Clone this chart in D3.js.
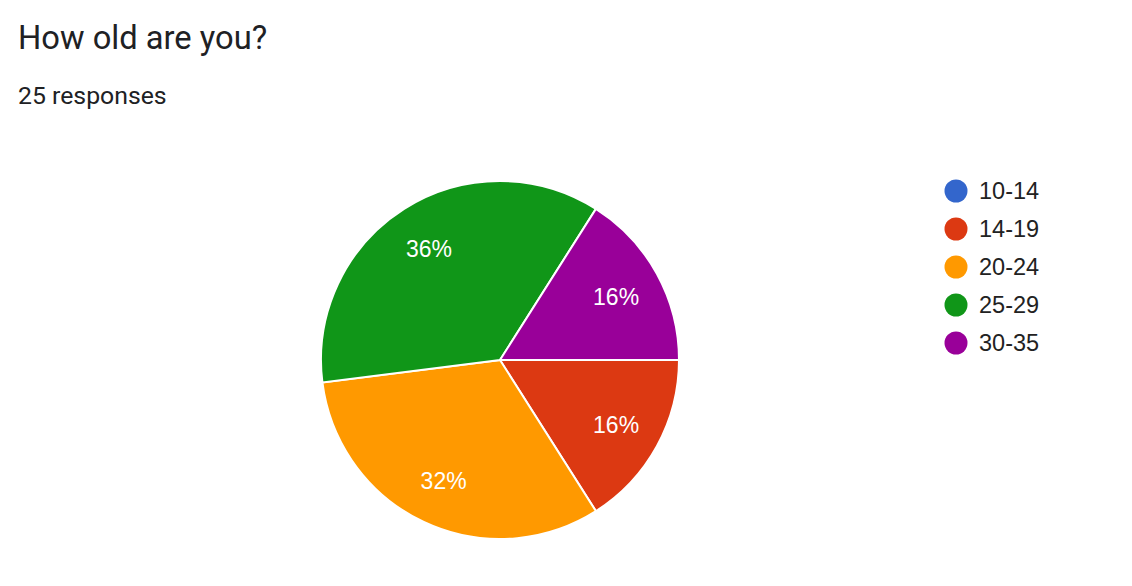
<!DOCTYPE html>
<html><head><meta charset="utf-8">
<script src="https://cdn.jsdelivr.net/npm/d3@7"></script>
<style>body{margin:0;background:#fff;}svg{display:block;}</style>
</head><body>
<svg id="chart" width="1132" height="586"></svg>
<script>
const categories = ["10-14", "14-19", "20-24", "25-29", "30-35"];
const counts = [0, 4, 8, 9, 4];
const colors = ["#3366cc", "#dc3912", "#ff9900", "#109618", "#990099"];
const title = "How old are you?";
const subtitle = "25 responses";

const svg = d3.select("#chart");
const W = 1132, H = 586;
svg.append("rect").attr("width", W).attr("height", H).attr("fill", "#fff");

svg.append("text").attr("x", 18).attr("y", 49)
  .attr("font-family", "Roboto, sans-serif").attr("font-size", 32.7)
  .attr("fill", "#202124").text(title);
svg.append("text").attr("x", 18).attr("y", 104)
  .attr("font-family", "Roboto, sans-serif").attr("font-size", 24.8)
  .attr("fill", "#202124").text(subtitle);

const cx = 500, cy = 360, r = 179;
const total = d3.sum(counts);
const color = d3.scaleOrdinal().domain(categories).range(colors);
const pie = d3.pie().value(d => d.v).sort(null)
  .startAngle(Math.PI / 2).endAngle(Math.PI / 2 + 2 * Math.PI);
const data = categories.map((c, i) => ({c, v: counts[i]}));
const arcs = pie(data);
const arc = d3.arc().innerRadius(0).outerRadius(r);
const labelArc = d3.arc().innerRadius(r * 0.74).outerRadius(r * 0.74);

const g = svg.append("g").attr("transform", `translate(${cx},${cy})`);
g.selectAll("path").data(arcs.filter(d => d.data.v > 0)).join("path")
  .attr("d", arc).attr("fill", d => color(d.data.c))
  .attr("stroke", "#fff").attr("stroke-width", 2);

g.selectAll("text.lbl").data(arcs.filter(d => d.data.v > 0)).join("text")
  .attr("class", "lbl")
  .attr("transform", d => `translate(${labelArc.centroid(d)})`)
  .attr("text-anchor", "middle").attr("dy", "0.38em")
  .attr("font-family", "Liberation Sans, Arial, sans-serif").attr("font-size", 23)
  .attr("fill", "#fff")
  .text(d => Math.round(d.data.v / total * 100) + "%");

const legend = svg.append("g").attr("transform", "translate(956,191)");
const items = legend.selectAll("g").data(categories).join("g")
  .attr("transform", (d, i) => `translate(0,${i * 38})`);
items.append("circle").attr("r", 11.5).attr("fill", d => color(d));
items.append("text").attr("x", 23).attr("dy", "0.36em")
  .attr("font-family", "Liberation Sans, Arial, sans-serif").attr("font-size", 23.5)
  .attr("fill", "#222").text(d => d);
</script>
</body></html>
